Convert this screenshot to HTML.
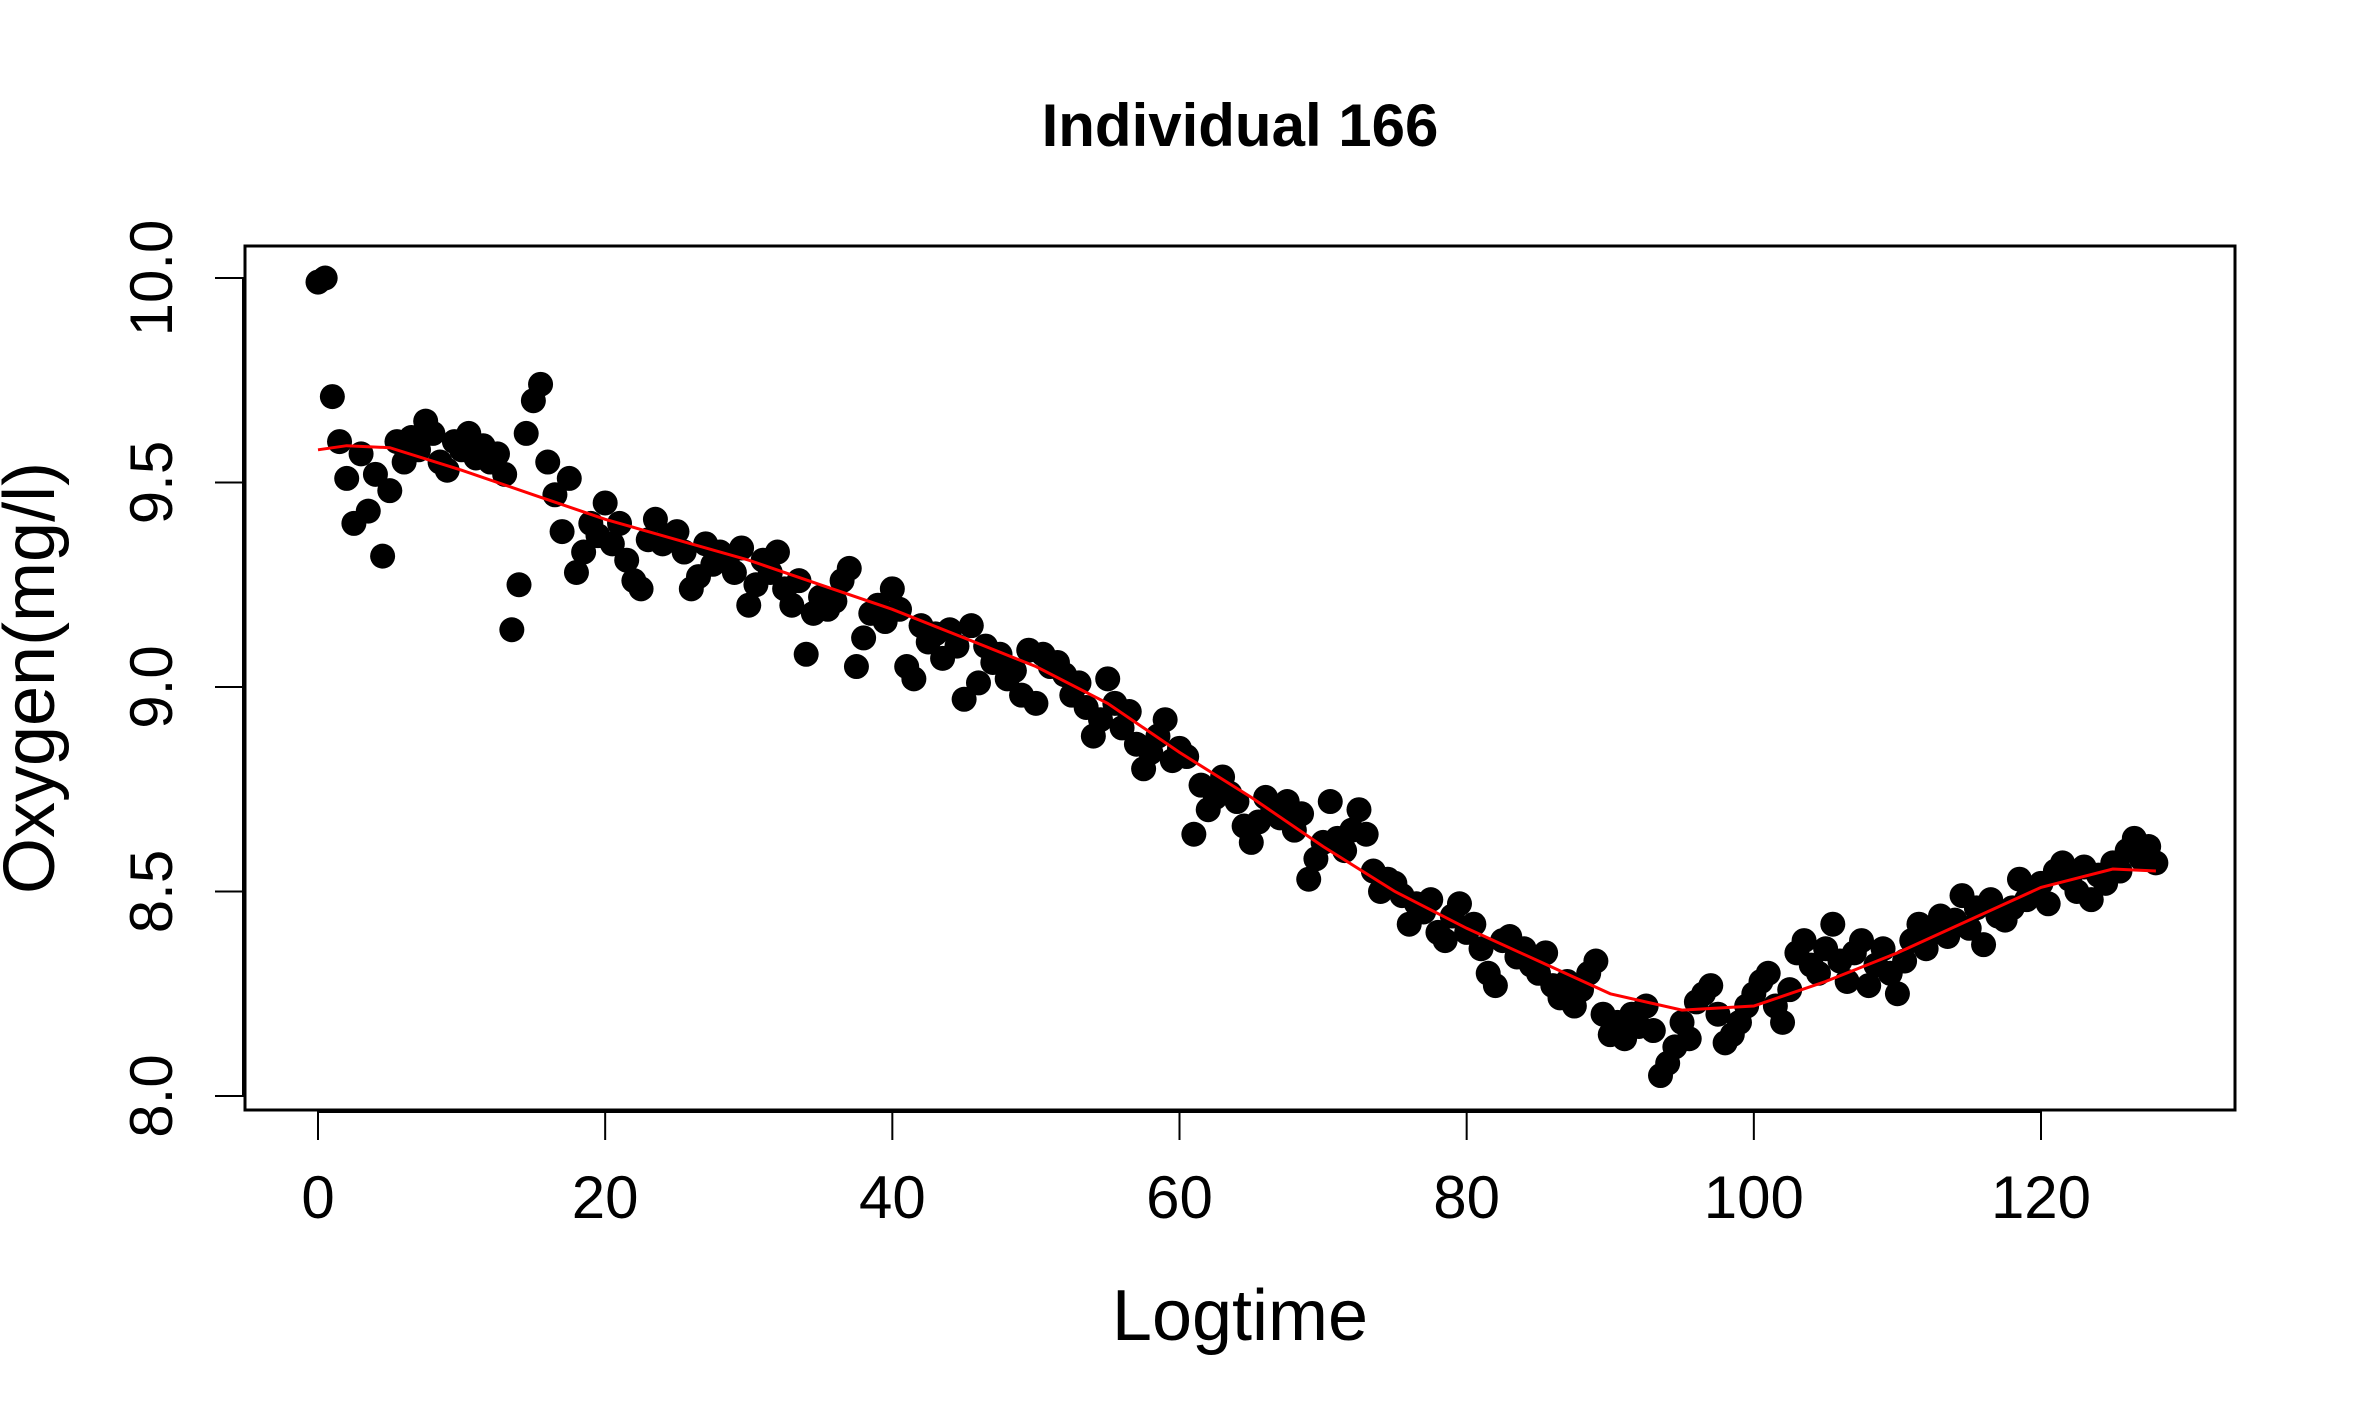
<!DOCTYPE html>
<html><head><meta charset="utf-8"><style>
html,body{margin:0;padding:0;background:#fff;}
svg{display:block;font-family:"Liberation Sans",Arial,sans-serif;}
</style></head><body>
<svg id="chart" width="2362" height="1417" viewBox="0 0 2362 1417" xmlns="http://www.w3.org/2000/svg">
<rect x="0" y="0" width="2362" height="1417" fill="#fff"/>
<text x="1240" y="146" font-size="60" font-weight="bold" text-anchor="middle">Individual 166</text>
<text x="1240" y="1340" font-size="72" text-anchor="middle">Logtime</text>
<text x="0" y="0" font-size="72" text-anchor="middle" transform="translate(54,678) rotate(-90)">Oxygen(mg/l)</text>
<g id="axes"></g>
<g id="points"></g>
<path id="fit" fill="none" stroke="#ff0000" stroke-width="3"/>
<rect x="245" y="246" width="1990" height="864" fill="none" stroke="#000" stroke-width="3"/>
</svg>
<script>
const xTicks = [0,20,40,60,80,100,120];
const yTicks = [8.0,8.5,9.0,9.5,10.0];
const yTickLabels = ["8.0","8.5","9.0","9.5","10.0"];
const oxygen = [
9.99,10.0,9.71,9.60,9.51,9.40,9.57,9.43,9.52,9.32,
9.48,9.60,9.55,9.61,9.58,9.65,9.62,9.55,9.53,9.60,
9.58,9.62,9.56,9.59,9.55,9.57,9.52,9.14,9.25,9.62,
9.70,9.74,9.55,9.47,9.38,9.51,9.28,9.33,9.40,9.37,
9.45,9.35,9.40,9.31,9.26,9.24,9.36,9.41,9.35,9.37,
9.38,9.33,9.24,9.27,9.35,9.30,9.33,9.31,9.28,9.34,
9.20,9.25,9.31,9.28,9.33,9.24,9.20,9.26,9.08,9.18,
9.22,9.19,9.21,9.26,9.29,9.05,9.12,9.18,9.20,9.16,
9.24,9.19,9.05,9.02,9.15,9.11,9.13,9.07,9.14,9.10,
8.97,9.15,9.01,9.10,9.06,9.08,9.02,9.04,8.98,9.09,
8.96,9.08,9.05,9.06,9.03,8.98,9.01,8.95,8.88,8.92,
9.02,8.96,8.90,8.94,8.86,8.80,8.84,8.88,8.92,8.82,
8.85,8.83,8.64,8.76,8.70,8.73,8.78,8.74,8.72,8.66,
8.62,8.67,8.73,8.70,8.68,8.72,8.65,8.69,8.53,8.58,
8.62,8.72,8.63,8.60,8.65,8.70,8.64,8.55,8.50,8.53,
8.52,8.49,8.42,8.47,8.45,8.48,8.40,8.38,8.44,8.47,
8.40,8.42,8.36,8.30,8.27,8.38,8.39,8.34,8.36,8.32,
8.30,8.35,8.27,8.24,8.28,8.22,8.26,8.30,8.33,8.20,
8.15,8.18,8.14,8.20,8.17,8.22,8.16,8.05,8.08,8.12,
8.18,8.14,8.23,8.25,8.27,8.20,8.13,8.15,8.18,8.22,
8.25,8.28,8.30,8.22,8.18,8.26,8.35,8.38,8.32,8.30,
8.36,8.42,8.33,8.28,8.35,8.38,8.27,8.32,8.36,8.30,
8.25,8.33,8.38,8.42,8.36,8.40,8.44,8.39,8.43,8.49,
8.41,8.46,8.37,8.48,8.44,8.43,8.46,8.53,8.48,8.50,
8.52,8.47,8.55,8.57,8.53,8.50,8.56,8.48,8.54,8.52,
8.57,8.55,8.60,8.63,8.58,8.61,8.57];
const logtime = oxygen.map((_, i) => i * 0.5);
const fitX = [0,2,5,10,15,20,25,30,35,40,45,50,55,60,65,70,75,80,85,90,95,100,105,110,115,120,125,128];
const fitY = [9.58,9.59,9.585,9.53,9.47,9.41,9.36,9.31,9.25,9.19,9.12,9.05,8.96,8.84,8.73,8.61,8.50,8.41,8.33,8.25,8.21,8.22,8.28,8.35,8.43,8.51,8.555,8.55];

const NS = "http://www.w3.org/2000/svg";
const X = v => 318 + v * (2041 - 318) / 120;
const Y = v => 1096 - (v - 8) * (1096 - 278) / 2;

const axes = document.getElementById('axes');
function mk(tag, attrs, parent) {
  const e = document.createElementNS(NS, tag);
  for (const k in attrs) e.setAttribute(k, attrs[k]);
  parent.appendChild(e);
  return e;
}
const xa = mk('line', {x1: X(0), x2: X(120), y1: 1112, y2: 1112, stroke: '#000', 'stroke-width': 2}, axes);


xTicks.forEach(t => {
  const l = mk('line', {x1: X(t), x2: X(t), y1: 1110, y2: 1140, stroke: '#000', 'stroke-width': 2}, axes);
  
  
  const tx = mk('text', {x: X(t), y: 1218, 'font-size': 60, 'text-anchor': 'middle'}, axes);
  tx.textContent = t;
  
  
});
const ya = mk('line', {x1: 243, x2: 243, y1: Y(8), y2: Y(10), stroke: '#000', 'stroke-width': 2}, axes);


yTicks.forEach((t, i) => {
  const l = mk('line', {x1: 215, x2: 245, y1: Y(t), y2: Y(t), stroke: '#000', 'stroke-width': 2}, axes);
  
  
  const tx = mk('text', {x: 0, y: 0, 'font-size': 60, 'text-anchor': 'middle', transform: 'translate(172,' + Y(t) + ') rotate(-90)'}, axes);
  tx.textContent = yTickLabels[i];
  
  
});

const pts = document.getElementById('points');
oxygen.forEach((v, i) => {
  const c = mk('circle', {cx: X(logtime[i]), cy: Y(v), r: 12.5, fill: '#000'}, pts);
  
  
});
document.getElementById('fit').setAttribute('d',
  fitX.map((x, i) => (i ? 'L' : 'M') + X(x).toFixed(1) + ',' + Y(fitY[i]).toFixed(1)).join(' '));
</script>
</body></html>
